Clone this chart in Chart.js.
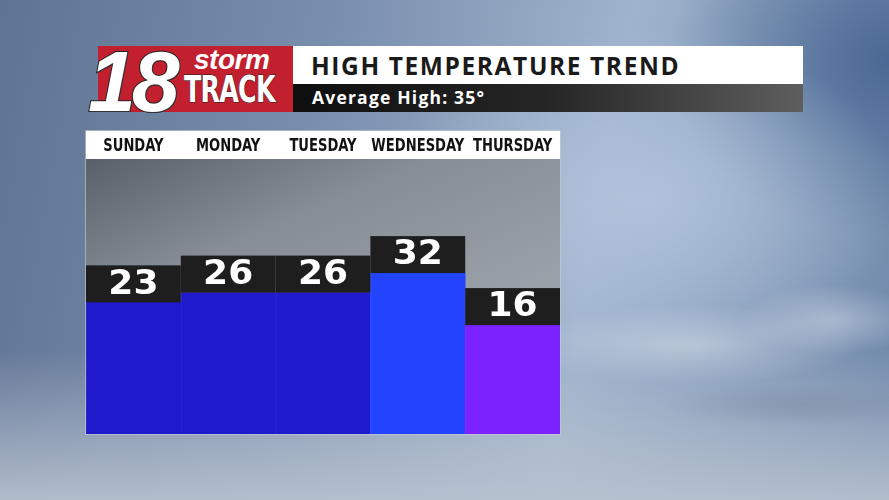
<!DOCTYPE html>
<html>
<head>
<meta charset="utf-8">
<script src="https://cdn.jsdelivr.net/npm/chart.js@4"></script>
<style>
  html, body { margin: 0; padding: 0; }
  body {
    width: 889px; height: 500px; overflow: hidden; position: relative;
    background:
      radial-gradient(ellipse 170px 40px at 690px 345px, rgba(215,222,232,0.55), rgba(215,222,232,0) 100%),
      radial-gradient(ellipse 90px 35px at 830px 320px, rgba(215,222,232,0.5), rgba(215,222,232,0) 100%),
      radial-gradient(ellipse 140px 22px at 800px 405px, rgba(120,135,155,0.45), rgba(120,135,155,0) 100%),
      radial-gradient(ellipse 260px 170px at 640px 200px, rgba(178,196,220,0.95), rgba(178,196,220,0) 100%),
      radial-gradient(ellipse 220px 180px at 890px 60px, rgba(70,100,145,0.9), rgba(70,100,145,0) 100%),
      linear-gradient(180deg, rgba(0,0,0,0) 70%, rgba(185,195,208,0.9) 100%),
      linear-gradient(100deg, #5f7393 0%, #7a8fae 35%, #9fb3cc 65%, #6f88aa 100%);
    font-family: "DejaVu Sans", sans-serif;
  }
  #logo {
    position: absolute; left: 98px; top: 46px; width: 195px; height: 66px;
    background: #c21f2f;
  }
  .t18 {
    position: absolute; left: -10px; top: -14px;
    font-family: "Liberation Sans", Arial, sans-serif; font-weight: 700; font-style: italic;
    font-size: 86px; color: #fff; letter-spacing: -4px;
    -webkit-text-stroke: 2px #222; paint-order: stroke fill;
    text-shadow: 1px 1px 0 #333;
  }
  .storm {
    position: absolute; left: 96px; top: -2px;
    font-family: "Liberation Sans", Arial, sans-serif; font-weight: 700; font-style: italic;
    font-size: 28px; color: #fff; letter-spacing: -0.5px;
  }
  .track {
    position: absolute; left: 86px; top: 24px;
    font-family: "DejaVu Sans Condensed", "DejaVu Sans", sans-serif; font-weight: 700;
    font-size: 38px; line-height: 1; color: #fff; letter-spacing: -1px;
    transform: scaleX(0.74); transform-origin: left top; white-space: nowrap;
    -webkit-text-stroke: 1px #222; paint-order: stroke fill;
  }
  #titleBar {
    position: absolute; left: 293px; top: 46px; width: 510px; height: 38px; background: #fff;
  }
  #titleBar span {
    position: absolute; left: 18px; top: 3px;
    font-family: "Open Sans", sans-serif; font-weight: 700; font-size: 24.5px; color: #1a1a1a;
    letter-spacing: 1.6px; white-space: nowrap;
  }
  #subBar {
    position: absolute; left: 293px; top: 84px; width: 510px; height: 28px;
    background: linear-gradient(90deg, #0e0e0e 0%, #262626 50%, #5e5e5e 100%);
  }
  #subBar span {
    position: absolute; left: 19px; top: 1px;
    font-family: "Open Sans", sans-serif; font-weight: 700;
    font-size: 17.5px; color: #fff; white-space: nowrap; letter-spacing: 1.2px;
  }
  #chartWrap {
    position: absolute; left: 86px; top: 131px; width: 474px; height: 303px;
    box-shadow: 0 0 0 1px rgba(200,206,214,0.6);
  }
</style>
</head>
<body>
<div id="logo"><span class="t18">18</span><span class="storm">storm</span><span class="track">TRACK</span></div>
<div id="titleBar"><span>HIGH TEMPERATURE TREND</span></div>
<div id="subBar"><span>Average High: 35°</span></div>
<div id="chartWrap"><canvas id="c" width="474" height="303"></canvas></div>
<script>
const days = ['SUNDAY', 'MONDAY', 'TUESDAY', 'WEDNESDAY', 'THURSDAY'];
const highs = [23, 26, 26, 32, 16];
const barColors = ['#1f1bcc', '#1f1bcc', '#1f1bcc', '#2244ff', '#7b22ff'];
const yMin = -17.5;
const yMax = 67.1;

const panelBg = {
  id: 'panelBg',
  beforeDraw(chart) {
    const { ctx, chartArea: a, width } = chart;
    ctx.save();
    ctx.fillStyle = '#ffffff';
    ctx.fillRect(0, 0, width, a.top);
    const g = ctx.createLinearGradient(a.left, a.top, a.left + 120, a.bottom);
    g.addColorStop(0, '#596069');
    g.addColorStop(0.45, '#868d96');
    g.addColorStop(1, '#9aa1a9');
    ctx.fillStyle = g;
    ctx.fillRect(a.left, a.top, a.right - a.left, a.bottom - a.top);
    ctx.restore();
  }
};

const dayLabels = {
  id: 'dayLabels',
  afterDraw(chart) {
    const { ctx, chartArea: a } = chart;
    const xs = chart.scales.x;
    ctx.save();
    ctx.fillStyle = '#121212';
    ctx.font = 'bold 18px "DejaVu Sans Condensed", "DejaVu Sans", sans-serif';
    ctx.textAlign = 'center';
    ctx.textBaseline = 'middle';
    days.forEach((d, i) => {
      const x = xs.getPixelForValue(i);
      ctx.save();
      ctx.translate(x, a.top / 2 + 1.5);
      ctx.scale(0.81, 1);
      ctx.fillText(d, 0, 0);
      ctx.restore();
    });
    ctx.restore();
  }
};

const valueBoxes = {
  id: 'valueBoxes',
  afterDatasetsDraw(chart) {
    const { ctx } = chart;
    const meta = chart.getDatasetMeta(0);
    ctx.save();
    meta.data.forEach((bar, i) => {
      const w = bar.width;
      const h = 37;
      ctx.fillStyle = '#1e1e1e';
      ctx.fillRect(bar.x - w / 2, bar.y - h, w, h);
      ctx.fillStyle = 'rgba(255,255,255,0.06)';
      ctx.fillRect(bar.x - w / 2, bar.y, 1, chart.chartArea.bottom - bar.y);
      ctx.fillStyle = '#ffffff';
      ctx.font = 'bold 34px "DejaVu Sans", sans-serif';
      ctx.textAlign = 'center';
      ctx.textBaseline = 'middle';
      ctx.save();
      ctx.translate(bar.x, bar.y - h / 2 + 1);
      ctx.scale(1.06, 1);
      ctx.fillText(String(highs[i]), 0, 0);
      ctx.restore();
    });
    ctx.restore();
  }
};

new Chart(document.getElementById('c'), {
  type: 'bar',
  data: {
    labels: days,
    datasets: [{
      data: highs,
      base: yMin,
      backgroundColor: barColors,
      borderWidth: 0,
      barPercentage: 1.0,
      categoryPercentage: 1.0
    }]
  },
  options: {
    responsive: false,
    animation: false,
    devicePixelRatio: 1,
    layout: { padding: 0 },
    plugins: { legend: { display: false }, tooltip: { enabled: false } },
    scales: {
      x: {
        position: 'top',
        grid: { display: false, drawTicks: false },
        border: { display: false },
        ticks: { display: false },
        afterFit(scale) { scale.height = 28; }
      },
      y: {
        display: false,
        min: yMin,
        max: yMax
      }
    }
  },
  plugins: [panelBg, valueBoxes, dayLabels]
});
</script>
</body>
</html>
